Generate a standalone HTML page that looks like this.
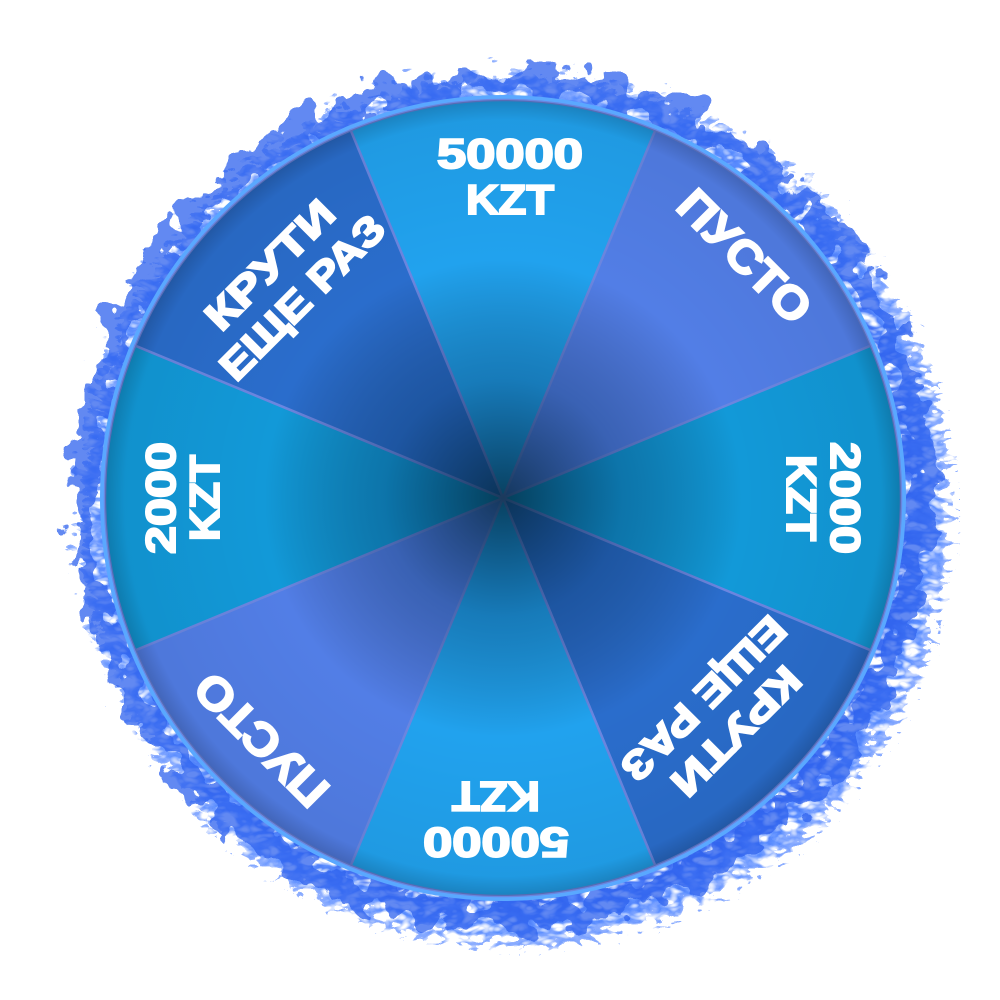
<!DOCTYPE html>
<html><head><meta charset="utf-8"><style>html,body{margin:0;padding:0;background:#fff;width:1000px;height:1000px;overflow:hidden}</style></head>
<body>
<svg width="1000" height="1000" viewBox="0 0 1000 1000" xmlns="http://www.w3.org/2000/svg">
<defs>
<filter id="fire" x="-20%" y="-20%" width="140%" height="140%">
<feTurbulence type="fractalNoise" baseFrequency="0.035" numOctaves="3" seed="4" result="n"/>
<feDisplacementMap in="SourceGraphic" in2="n" scale="60" xChannelSelector="R" yChannelSelector="G"/>
</filter>
<filter id="wisp" x="-20%" y="-20%" width="140%" height="140%">
<feTurbulence type="turbulence" baseFrequency="0.05 0.09" numOctaves="2" seed="7" result="t"/>
<feDisplacementMap in="SourceGraphic" in2="t" scale="45" xChannelSelector="R" yChannelSelector="G" result="d"/>
<feColorMatrix in="t" type="matrix" values="0 0 0 0 1  0 0 0 0 1  0 0 0 0 1  0 0 0 -3 1.6" result="holes"/>
<feComposite in="d" in2="holes" operator="in"/>
</filter>
<radialGradient id="ring" cx="503" cy="498" r="460" gradientUnits="userSpaceOnUse">
<stop offset="0.84" stop-color="#2a5ef0"/>
<stop offset="0.9" stop-color="#4a82ff"/>
<stop offset="0.96" stop-color="#6d96ff" stop-opacity="0.7"/>
<stop offset="1" stop-color="#9ab4ff" stop-opacity="0"/>
</radialGradient>
<radialGradient id="shade" cx="503" cy="498" r="398" gradientUnits="userSpaceOnUse">
<stop offset="0" stop-color="#002030" stop-opacity="0.75"/>
<stop offset="0.3" stop-color="#002040" stop-opacity="0.3"/>
<stop offset="0.6" stop-color="#000" stop-opacity="0"/>
<stop offset="0.95" stop-color="#000" stop-opacity="0.05"/>
<stop offset="1" stop-color="#000" stop-opacity="0.2"/>
</radialGradient>
</defs>
<circle cx="503" cy="498" r="435" fill="url(#ring)" filter="url(#wisp)" opacity="0.9"/>
<circle cx="503" cy="498" r="418" fill="none" stroke="#2d62ee" stroke-width="26" filter="url(#fire)" opacity="0.75"/>
<circle cx="503" cy="498" r="403" fill="#5aa8ff"/>
<g stroke="#6b86e0" stroke-width="2.5">
<path d="M503,498 L350.7,130.3 A398,398 0 0 1 655.3,130.3 Z" fill="#21a2ee" transform="rotate(0 503 498)"/>
<path d="M503,498 L350.7,130.3 A398,398 0 0 1 655.3,130.3 Z" fill="#527ee6" transform="rotate(45 503 498)"/>
<path d="M503,498 L350.7,130.3 A398,398 0 0 1 655.3,130.3 Z" fill="#1299d8" transform="rotate(90 503 498)"/>
<path d="M503,498 L350.7,130.3 A398,398 0 0 1 655.3,130.3 Z" fill="#2a6dcc" transform="rotate(135 503 498)"/>
<path d="M503,498 L350.7,130.3 A398,398 0 0 1 655.3,130.3 Z" fill="#21a2ee" transform="rotate(180 503 498)"/>
<path d="M503,498 L350.7,130.3 A398,398 0 0 1 655.3,130.3 Z" fill="#527ee6" transform="rotate(225 503 498)"/>
<path d="M503,498 L350.7,130.3 A398,398 0 0 1 655.3,130.3 Z" fill="#1299d8" transform="rotate(270 503 498)"/>
<path d="M503,498 L350.7,130.3 A398,398 0 0 1 655.3,130.3 Z" fill="#2a6dcc" transform="rotate(315 503 498)"/>
</g>
<circle cx="503" cy="498" r="398" fill="url(#shade)"/>
<g fill="#fff" stroke="#fff" stroke-width="2" font-family="Liberation Sans, sans-serif" font-weight="bold" text-anchor="middle" lengthAdjust="spacingAndGlyphs">
<g transform="rotate(0 503 498)"><text x="510" y="168" font-size="42" textLength="146" lengthAdjust="spacingAndGlyphs">50000</text><text x="510" y="214" font-size="42" textLength="88" lengthAdjust="spacingAndGlyphs">KZT</text></g>
<g transform="rotate(180 503 498)"><text x="510" y="168" font-size="42" textLength="146" lengthAdjust="spacingAndGlyphs">50000</text><text x="510" y="214" font-size="42" textLength="88" lengthAdjust="spacingAndGlyphs">KZT</text></g>
<g transform="rotate(45 503 498)"><text x="503" y="172" font-size="46" textLength="168" lengthAdjust="spacingAndGlyphs">ПУСТО</text></g>
<g transform="rotate(225 503 498)"><text x="503" y="172" font-size="46" textLength="168" lengthAdjust="spacingAndGlyphs">ПУСТО</text></g>
<g transform="rotate(90 503 498)"><text x="503" y="170" font-size="42" textLength="112" lengthAdjust="spacingAndGlyphs">2000</text><text x="503" y="214" font-size="42" textLength="86" lengthAdjust="spacingAndGlyphs">KZT</text></g>
<g transform="rotate(270 503 498)"><text x="503" y="170" font-size="42" textLength="112" lengthAdjust="spacingAndGlyphs">2000</text><text x="503" y="214" font-size="42" textLength="86" lengthAdjust="spacingAndGlyphs">KZT</text></g>
<g transform="rotate(-45 503 498)"><text x="503" y="182" font-size="40" textLength="165" lengthAdjust="spacingAndGlyphs">КРУТИ</text><text x="503" y="228" font-size="40" textLength="215" lengthAdjust="spacingAndGlyphs">ЕЩЕ РАЗ</text></g>
<g transform="rotate(135 503 498)"><text x="503" y="182" font-size="40" textLength="165" lengthAdjust="spacingAndGlyphs">КРУТИ</text><text x="503" y="228" font-size="40" textLength="215" lengthAdjust="spacingAndGlyphs">ЕЩЕ РАЗ</text></g>
</g>
</svg>
</body></html>
